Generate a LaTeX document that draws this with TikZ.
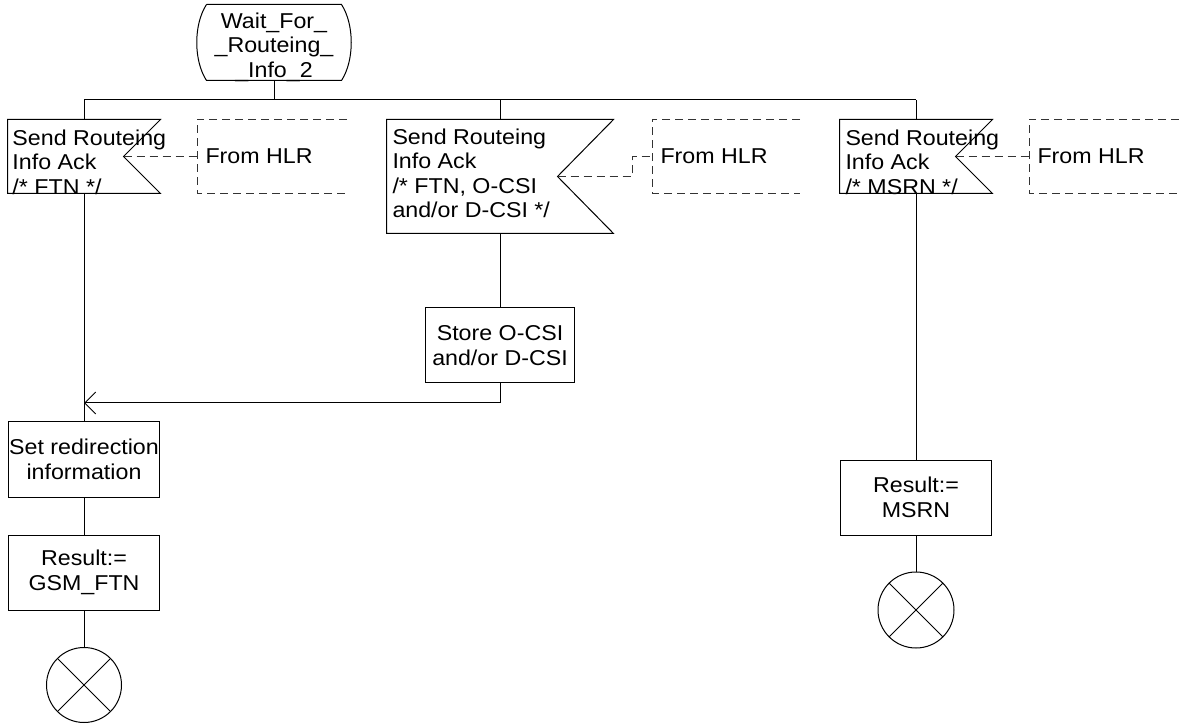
\documentclass[tikz,border=0pt]{standalone}
\usepackage{fontspec}
\setmainfont{Liberation Sans}[FakeStretch=1.08]
\usetikzlibrary{arrows.meta}
\begin{document}
\begin{tikzpicture}[x=1pt,y=-1pt,line width=1pt,
  every node/.style={font=\fontsize{21.5}{24.5}\selectfont, inner sep=0pt},
  task/.style={draw, minimum width=151pt, minimum height=75pt, align=center},
  sigtext/.style={anchor=north west, align=left},
  comment/.style={anchor=west, minimum height=73pt, inner xsep=8pt, align=left},
  dashline/.style={draw=black!80, dash pattern=on 8pt off 5pt},
  term/.style={circle, draw, minimum size=75pt}]
\useasboundingbox (0,0) rectangle (1179,727);

% state
\node[minimum width=134pt, minimum height=75pt] (state) at (274,42.5) {};
\draw (state.north west) -- (state.north east)
  .. controls +(13,20) and +(13,-20) .. (state.south east) -- (state.south west)
  .. controls +(-13,-20) and +(-13,20) .. (state.north west);
\node[align=center] (statetext) at (274,47) {Wait\_For\_\\\_Routeing\_\\\_Info\_2};

% bus
\coordinate (bus1) at (84,100);
\coordinate (bus3) at (916,100);
\draw (bus1) -- (bus3);
\draw (state.south) -- (state.south |- bus1);

% input 1
\node[minimum width=152pt, minimum height=73pt] (in1) at (84,156.5) {};
\coordinate (n1) at ([xshift=-37pt]in1.east);
\draw (in1.north west) -- (in1.north east) -- (n1) -- (in1.south east) -- (in1.south west) -- cycle;
\node[sigtext] (t1) at (12,129) {Send Routeing\\Info Ack\\/* FTN */};
\node[comment] (c1) at (197,156.5) {From HLR};
\draw[dashline] ([xshift=150pt]c1.north west) -- (c1.north west) -- (c1.south west) -- ([xshift=150pt]c1.south west);
\draw[dashline] (n1) -- (c1.west);

% input 2
\node[minimum width=226pt, minimum height=113pt] (in2) at (500,176.5) {};
\coordinate (n2) at ([xshift=-56pt]in2.east);
\draw (in2.north west) -- (in2.north east) -- (n2) -- (in2.south east) -- (in2.south west) -- cycle;
\node[sigtext] (t2) at (392,128) {Send Routeing\\Info Ack\\/* FTN, O-CSI\\and/or D-CSI */};
\node[comment] (c2) at (652,156.5) {From HLR};
\draw[dashline] ([xshift=148pt]c2.north west) -- (c2.north west) -- (c2.south west) -- ([xshift=148pt]c2.south west);
\draw[dashline] (n2) -- ++(75,0) |- (c2.west);

% input 3
\node[minimum width=152pt, minimum height=73pt] (in3) at (916,156.5) {};
\coordinate (n3) at ([xshift=-37pt]in3.east);
\draw (in3.north west) -- (in3.north east) -- (n3) -- (in3.south east) -- (in3.south west) -- cycle;
\node[sigtext] (t3) at (845,129) {Send Routeing\\Info Ack\\/* MSRN */};
\node[comment] (c3) at (1029,156.5) {From HLR};
\draw[dashline] ([xshift=150pt]c3.north west) -- (c3.north west) -- (c3.south west) -- ([xshift=150pt]c3.south west);
\draw[dashline] (n3) -- (c3.west);

% column 1
\node[task] (set) at (84,459.5) {Set redirection\\information};
\node[task] (res1) at (84,572.5) {Result:=\\GSM\_FTN};
\node[term] (end1) at (84,685) {};
\draw (bus1) -- (in1.north);
\draw (in1.south) -- (set.north);
\draw (set.south) -- (res1.north);
\draw (res1.south) -- (end1.north);
\draw (end1.north west) -- (end1.south east) (end1.north east) -- (end1.south west);

% column 2
\draw (in2.north |- bus1) -- (in2.north);
\node[task, minimum width=149pt] (store) at (500,345.5) {Store O-CSI\\and/or D-CSI};
\draw (in2.south) -- (store.north);
\coordinate (merge) at (84,403);
\draw[-{Straight Barb[length=11pt,width=22pt]}] (store.south) |- (merge);

% column 3
\node[task] (res3) at (916,497.5) {Result:=\\MSRN};
\node[term, minimum size=76pt] (end3) at (916,610) {};
\draw (bus3) -- (in3.north);
\draw (in3.south) -- (res3.north);
\draw (res3.south) -- (end3.north);
\draw (end3.north west) -- (end3.south east) (end3.north east) -- (end3.south west);
\end{tikzpicture}
\end{document}
